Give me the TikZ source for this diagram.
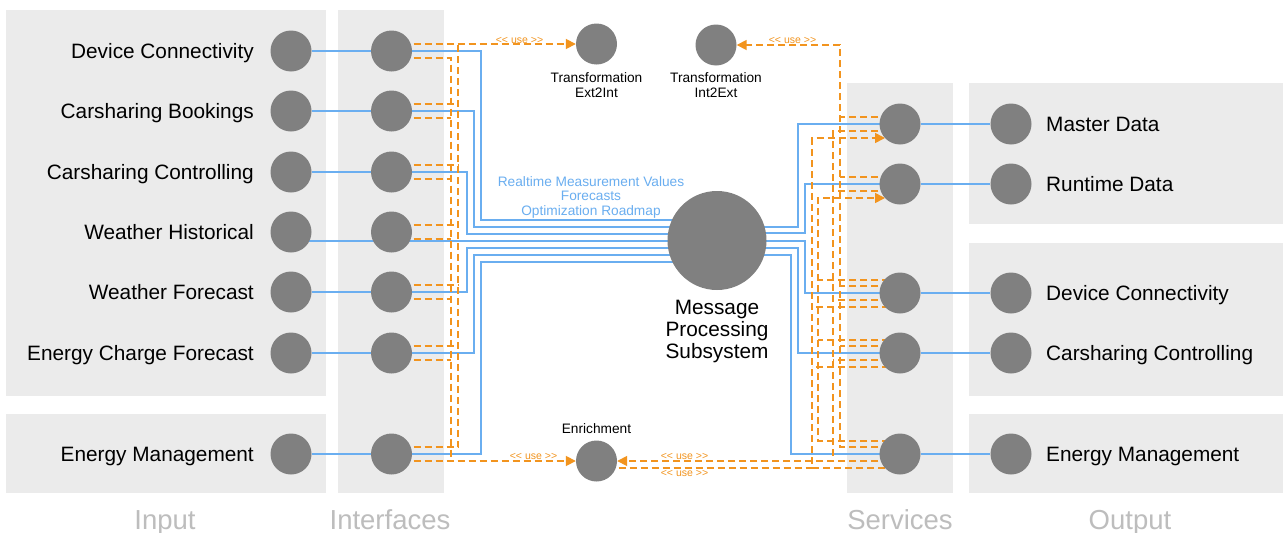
\documentclass[tikz,border=0pt]{standalone}
\usepackage{fontspec}
\setmainfont{Liberation Sans}
\usetikzlibrary{arrows.meta,positioning,calc}
\pgfdeclarelayer{panels}
\pgfdeclarelayer{wires}
\pgfsetlayers{panels,wires,main}
\definecolor{panelgray}{HTML}{EBEBEB}
\definecolor{dotgray}{HTML}{808080}
\definecolor{flowblue}{HTML}{6AAEF0}
\definecolor{useorange}{HTML}{F2941E}
\definecolor{titlegray}{HTML}{BDBDBD}
\newcommand{\uselabel}{<\kern0pt< use >\kern0pt>}
\tikzset{
  dot/.style={circle, fill=dotgray, inner sep=0pt, minimum size=41pt},
  panel/.style={fill=panelgray},
  flow/.style={draw=flowblue, line width=1.8pt},
  use/.style={draw=useorange, line width=1.7pt, dash pattern=on 7pt off 4pt},
  usearrow/.style={use, -{Triangle[length=10pt,width=10pt]}},
  lbl/.style={font=\fontsize{20.8}{22}\selectfont, inner sep=0pt},
  small/.style={font=\fontsize{13.7}{15}\selectfont, align=center, inner sep=0pt},
  uselbl/.style={font=\fontsize{10.5}{11}\selectfont, text=useorange, inner sep=0pt},
  title/.style={font=\fontsize{27.5}{30}\selectfont, text=titlegray, inner sep=0pt, anchor=base}
}

\begin{document}
\begin{tikzpicture}[x=1pt, y=-1pt]
  \useasboundingbox (0,0) rectangle (1283,533);

  \begin{pgfonlayer}{panels}
    \fill [white] (0,0) rectangle (1283,533);
    \fill [panel] (6,10) rectangle (326,396);
    \fill [panel] (6,414) rectangle (326,493);
    \fill [panel] (338,10) rectangle (444,493);
    \fill [panel] (847,83) rectangle (953,493);
    \fill [panel] (969,83) rectangle (1283,224);
    \fill [panel] (969,243) rectangle (1283,396);
    \fill [panel] (969,414) rectangle (1283,493);
  \end{pgfonlayer}

  % inputs and interfaces
  \foreach \y/\n in {51/1,111/2,172/3,232/4,292/5,353/6,454/7} {
    \node (in\n) [dot] at (291,\y) {};
    \node (if\n) [dot] at (391.5,\y) {};
  }
  \foreach \n/\t in {1/Device Connectivity, 2/Carsharing Bookings,
                     3/Carsharing Controlling, 4/Weather Historical,
                     5/Weather Forecast, 6/Energy Charge Forecast,
                     7/Energy Management}
    \node [lbl, anchor=base east] at ($(in\n)+(-37,7.3)$) {\t};

  % services and outputs
  \foreach \y/\n in {124/1,184/2,293/3,353/4,454/5} {
    \node (sv\n) [dot] at (900,\y) {};
    \node (out\n) [dot] at (1011,\y) {};
  }
  \foreach \n/\t in {1/Master Data, 2/Runtime Data, 3/Device Connectivity,
                     4/Carsharing Controlling, 5/Energy Management}
    \node [lbl, anchor=base west] at ($(out\n)+(35,7.3)$) {\t};

  \node (ext2int) [dot] at (596.5,44) {};
  \node [small, below=8pt of ext2int] {Transformation\\Ext2Int};
  \node (int2ext) [dot] at (716,45) {};
  \node [small, below=7pt of int2ext] {Transformation\\Int2Ext};
  \node (enrich) [dot] at (596.5,461) {};
  \node [small, above=6pt of enrich] {Enrichment};
  \node (mps) [dot, minimum size=99pt] at (717,240.5) {};
  \node [lbl, align=center, below=10pt of mps] {Message\\Processing\\Subsystem};

  \node [small, text=flowblue, font=\fontsize{13.7}{14.5}\selectfont] at (591,197)
    {Realtime Measurement Values\\Forecasts\\Optimization Roadmap};

  \node [uselbl] at (519.5,40) {\uselabel};
  \node [uselbl] at (792.5,40) {\uselabel};
  \node [uselbl] at (533.5,456) {\uselabel};
  \node [uselbl] at (684.5,456) {\uselabel};
  \node [uselbl] at (684.5,473) {\uselabel};

  \node [title] at (165,529) {Input};
  \node [title] at (390,529) {Interfaces};
  \node [title] at (900,529) {Services};
  \node [title] at (1130,529) {Output};

  \begin{pgfonlayer}{wires}
    \path [flow]
    (in1) edge (if1)
    (in2) edge (if2)
    (in3) edge (if3)
    (in5) edge (if5)
    (in6) edge (if6)
    (in7) edge (if7);
    \foreach \n in {1,...,5}
      \draw [flow] (sv\n) -- (out\n);

    % into the message processing
    \draw [flow] (if1.center) -| (481,220) -- (mps.center |- 0,220);
    \draw [flow] (if2.center) -| (474,227) -- (mps.center |- 0,227);
    \draw [flow] (if3.center) -| (467,234) -- (mps.center |- 0,234);
    \draw [flow] (in4.center |- 0,241) -- (mps.center |- 0,241);
    \draw [flow] (if5.center) -| (467,248) -- (mps.center |- 0,248);
    \draw [flow] (if6.center) -| (474,255) -- (mps.center |- 0,255);
    \draw [flow] (if7.center) -| (481,262) -- (mps.center |- 0,262);

    % out of the message processing
    \draw [flow] (mps.center |- 0,227) -| (798,124) -- (sv1.center);
    \draw [flow] (mps.center |- 0,233) -| (805,184) -- (sv2.center);
    \draw [flow] (mps.center |- 0,241) -| (805,293) -- (sv3.center);
    \draw [flow] (mps.center |- 0,248) -| (798,353) -- (sv4.center);
    \draw [flow] (mps.center |- 0,255) -| (791,454) -- (sv5.center);

    % interfaces use the transformation and the enrichment
    \foreach \n in {2,...,6} {
      \draw [use] ($(if\n)+(0,-7)$) -- ++(66.5,0);
      \draw [use] ($(if\n)+(0,7)$) -- ++(59.5,0);
    }
    \draw [usearrow] ($(if1)+(0,-7)$) -- (ext2int);
    \draw [use] ($(if7)+(0,-7)$) -| ($(if1)+(66.5,-7)$);
    \draw [use] ($(if1)+(0,7)$) -| ($(if7)+(59.5,7)$);
    \draw [usearrow] ($(if7)+(0,7)$) -- (enrich);

    % services
    \draw [usearrow] ($(sv5)+(0,-7)$) -| (840,45) -- (int2ext);
    \foreach \n in {1,...,4}
      \draw [use] ($(sv\n)+(0,-7)$) -- ++(-60,0);

    \draw [use] ($(sv1)+(0,7)$) -| (833,461);
    \foreach \n in {2,3,4}
      \draw [use] ($(sv\n)+(0,7)$) -- ++(-67,0);
    \draw [usearrow] ($(sv5)+(0,7)$) -- (enrich);

    \draw [usearrow] (enrich.center |- 0,468) -| (812,138) -- ($(sv1)+(-15,14)$);
    \draw [use] (812,468) -- ($(sv5)+(0,14)$);
    \foreach \n in {3,4}
      \draw [use] ($(sv\n)+(0,14)$) -- ++(-88,0);

    \draw [usearrow] ($(sv5)+(0,-13)$) -| (818,198) -- ($(sv2)+(-15,14)$);
    \foreach \n in {3,4}
      \draw [use] ($(sv\n)+(0,-13)$) -- ++(-82,0);
  \end{pgfonlayer}
\end{tikzpicture}
\end{document}
